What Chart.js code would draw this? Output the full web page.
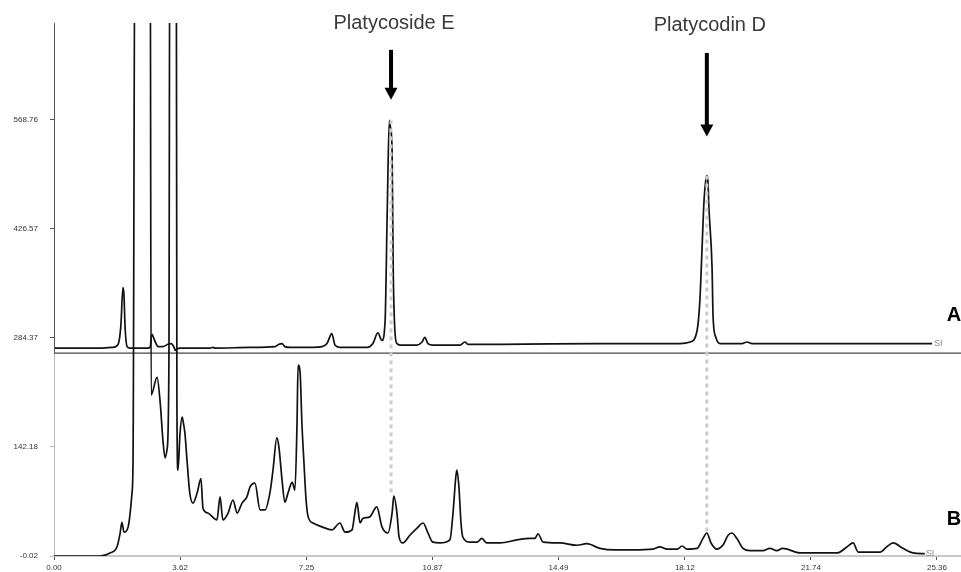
<!DOCTYPE html>
<html>
<head>
<meta charset="utf-8">
<script src="https://cdn.jsdelivr.net/npm/chart.js@4.4.1/dist/chart.umd.min.js"></script>
<style>
  html, body { margin: 0; padding: 0; background: #fff; }
  canvas { display: block; }
</style>
</head>
<body>
<canvas id="chromatogram" width="961" height="572"></canvas>
<script>
// retention time (min) / response pairs
const traceA = [
  [0.00, 271], [1.32, 271], [1.69, 272], [1.84, 276], [1.92, 300], [1.98, 350], [2.01, 340],
  [2.04, 300], [2.10, 273], [2.18, 271], [2.70, 271], [2.76, 272], [2.81, 289], [2.90, 280],
  [2.99, 273], [3.13, 273], [3.27, 276], [3.36, 277], [3.45, 272], [3.48, 268], [3.53, 270],
  [3.62, 271], [4.48, 271], [4.57, 272], [4.62, 271], [5.63, 272], [6.35, 273], [6.46, 276],
  [6.55, 277], [6.63, 273], [6.78, 272], [7.44, 272], [7.70, 273], [7.84, 277], [7.98, 290],
  [8.07, 275], [8.21, 272], [8.99, 272], [9.16, 277], [9.30, 291], [9.42, 281], [9.51, 307],
  [9.57, 447], [9.63, 568], [9.66, 560], [9.71, 529], [9.74, 381], [9.79, 294], [9.85, 277],
  [9.94, 275], [10.42, 275], [10.57, 279], [10.65, 285], [10.74, 277], [10.88, 275], [11.66, 275],
  [11.80, 279], [11.89, 276], [12.81, 276], [15.68, 277], [17.98, 277], [18.27, 279], [18.47, 294],
  [18.55, 333], [18.61, 398], [18.67, 464], [18.72, 490], [18.75, 496], [18.78, 490], [18.81, 454],
  [18.90, 376], [18.93, 311], [19.01, 285], [19.13, 277], [19.76, 277], [19.90, 279], [20.05, 277],
  [25.22, 277]
];

const traceB = [
  [0.00, 0], [1.32, 0], [1.61, 4], [1.81, 12], [1.90, 30], [1.95, 44], [2.01, 31], [2.13, 38],
  [2.24, 82], [2.27, 125], [2.33, 900], [2.76, 900], [2.79, 210], [2.96, 233], [3.05, 200],
  [3.13, 150], [3.19, 128], [3.25, 140], [3.30, 250], [3.33, 900], [3.51, 900], [3.53, 200],
  [3.56, 112], [3.62, 160], [3.68, 181], [3.71, 175], [3.76, 160], [3.82, 125], [3.90, 82],
  [3.99, 69], [4.11, 82], [4.22, 101], [4.28, 62], [4.42, 56], [4.68, 47], [4.77, 77], [4.85, 47],
  [5.00, 56], [5.14, 73], [5.26, 56], [5.40, 69], [5.54, 77], [5.63, 90], [5.77, 95], [5.92, 60],
  [6.06, 60], [6.20, 82], [6.29, 112], [6.40, 154], [6.46, 142], [6.55, 99], [6.63, 70], [6.72, 82],
  [6.84, 96], [6.92, 86], [6.98, 173], [7.01, 249], [7.07, 238], [7.12, 173], [7.18, 121],
  [7.24, 73], [7.30, 51], [7.44, 43], [7.70, 38], [7.98, 34], [8.21, 43], [8.36, 31], [8.56, 34],
  [8.64, 56], [8.70, 70], [8.79, 43], [8.87, 49], [9.07, 51], [9.27, 64], [9.42, 38], [9.59, 30],
  [9.71, 56], [9.76, 78], [9.85, 56], [9.91, 25], [10.02, 17], [10.22, 27], [10.42, 36],
  [10.60, 43], [10.74, 30], [10.88, 18], [11.08, 17], [11.37, 21], [11.46, 56], [11.54, 103],
  [11.57, 112], [11.63, 90], [11.69, 43], [11.74, 25], [11.95, 18], [12.15, 18], [12.29, 23],
  [12.43, 17], [12.81, 17], [13.30, 21], [13.67, 23], [13.81, 23], [13.90, 29], [14.05, 18],
  [14.53, 17], [15.02, 14], [15.30, 16], [15.68, 10], [16.11, 8], [16.62, 8], [17.20, 9],
  [17.40, 12], [17.61, 9], [17.90, 9], [18.04, 13], [18.18, 9], [18.47, 10], [18.64, 23],
  [18.75, 30], [18.87, 17], [19.04, 9], [19.21, 14], [19.36, 27], [19.47, 30], [19.61, 23],
  [19.79, 10], [19.99, 7], [20.36, 7], [20.56, 10], [20.76, 7], [20.93, 10], [21.43, 4],
  [22.49, 4], [22.78, 12], [22.95, 17], [23.10, 5], [23.72, 5], [23.92, 12], [24.10, 17],
  [24.38, 10], [24.67, 4], [25.01, 3]
];

const xTicks = [0.00, 3.62, 7.25, 10.87, 14.49, 18.12, 21.74, 25.36];
const yTicks = [-0.02, 142.18, 284.37, 426.57, 568.76];
const separatorLevel = 264.6;

// marked compounds
const peakNames = ['Platycoside E', 'Platycodin D'];
const peakTimes = [9.68, 18.75];
const peakTopA = [568, 496];
const peakTopB = [78, 30];
const arrowTop = [660, 656];
const arrowTip = [595, 547];
const labelLevel = [695, 692];

const FONT = '"Liberation Sans", Arial, sans-serif';
const toPts = arr => arr.map(p => ({ x: p[0], y: p[1] }));

const annotations = {
  id: 'annotations',
  afterDatasetsDraw(chart) {
    const { ctx, chartArea } = chart;
    const x = chart.scales.x, y = chart.scales.y;
    ctx.save();

    // upper part of the y axis belongs to trace A and is darker
    ctx.strokeStyle = '#555';
    ctx.lineWidth = 1;
    ctx.beginPath();
    ctx.moveTo(chartArea.left + 0.5, y.getPixelForValue(separatorLevel));
    ctx.lineTo(chartArea.left + 0.5, chartArea.top);
    ctx.stroke();

    peakNames.forEach((name, i) => {
      const px = x.getPixelForValue(peakTimes[i]);
      const top = y.getPixelForValue(arrowTop[i]);
      const tip = y.getPixelForValue(arrowTip[i]);
      ctx.fillStyle = '#000';
      ctx.fillRect(px - 2, top, 4, tip - top - 11);
      ctx.beginPath();
      ctx.moveTo(px - 6.5, tip - 12);
      ctx.lineTo(px + 6.5, tip - 12);
      ctx.lineTo(px, tip);
      ctx.closePath();
      ctx.fill();

      ctx.fillStyle = '#3a3a3a';
      ctx.font = '20px ' + FONT;
      ctx.textAlign = 'center';
      ctx.textBaseline = 'middle';
      ctx.fillText(name, px + 3, y.getPixelForValue(labelLevel[i]));
    });

    // trace letters
    ctx.fillStyle = '#000';
    ctx.font = 'bold 20px ' + FONT;
    ctx.textAlign = 'center';
    ctx.textBaseline = 'middle';
    ctx.fillText('A', 954, y.getPixelForValue(313));
    ctx.fillText('B', 954, y.getPixelForValue(47));

    // SI end marks
    ctx.fillStyle = '#888';
    ctx.font = '9px ' + FONT;
    ctx.textAlign = 'left';
    const endA = traceA[traceA.length - 1], endB = traceB[traceB.length - 1];
    ctx.fillText('SI', x.getPixelForValue(endA[0]) + 2, y.getPixelForValue(endA[1]));
    ctx.fillText('SI', x.getPixelForValue(endB[0]) + 1, y.getPixelForValue(endB[1]));
    ctx.restore();
  }
};

const dotted = i => ({
  data: [{ x: peakTimes[i], y: peakTopA[i] }, { x: peakTimes[i], y: peakTopB[i] }],
  borderColor: '#cccccc',
  borderWidth: 3,
  borderDash: [4, 4],
  pointRadius: 0,
  order: 0
});

const trace = (arr, order) => ({
  data: toPts(arr),
  borderColor: '#111',
  borderWidth: 1.7,
  pointRadius: 0,
  cubicInterpolationMode: 'monotone',
  order: order
});

new Chart(document.getElementById('chromatogram').getContext('2d'), {
  type: 'line',
  data: {
    datasets: [
      dotted(0),
      dotted(1),
      trace(traceA, 1),
      trace(traceB, 2),
      {
        data: [{ x: 0, y: separatorLevel }, { x: 26.05, y: separatorLevel }],
        borderColor: '#444', borderWidth: 1.2, pointRadius: 0, order: 3
      }
    ]
  },
  options: {
    responsive: false,
    animation: false,
    events: [],
    layout: { padding: { top: 23, right: 0, bottom: 0, left: 0 } },
    plugins: { legend: { display: false }, tooltip: { enabled: false } },
    scales: {
      x: {
        type: 'linear',
        min: 0,
        max: 26.05,
        afterBuildTicks: s => { s.ticks = xTicks.map(v => ({ value: v })); },
        afterFit: s => { s.height = 16; s.paddingLeft = 0; s.paddingRight = 0; },
        ticks: {
          autoSkip: false, maxRotation: 0, padding: 3,
          color: '#333', font: { size: 8, family: FONT },
          callback: v => v.toFixed(2)
        },
        grid: { drawOnChartArea: false, tickLength: 4, color: '#555' },
        border: { color: '#c8c8c8', width: 2 }
      },
      y: {
        min: -0.02,
        max: 695,
        afterBuildTicks: s => { s.ticks = yTicks.map(v => ({ value: v })); },
        afterFit: s => { s.width = 54; s.paddingTop = 0; s.paddingBottom = 0; },
        ticks: {
          autoSkip: false, padding: 12,
          color: '#333', font: { size: 8, family: FONT },
          callback: v => v.toFixed(2)
        },
        grid: {
          drawOnChartArea: false, tickLength: 4,
          color: c => (c.tick && c.tick.value > separatorLevel ? '#555' : '#bbb')
        },
        border: { color: '#bbb', width: 1 }
      }
    }
  },
  plugins: [annotations]
});
</script>
</body>
</html>
